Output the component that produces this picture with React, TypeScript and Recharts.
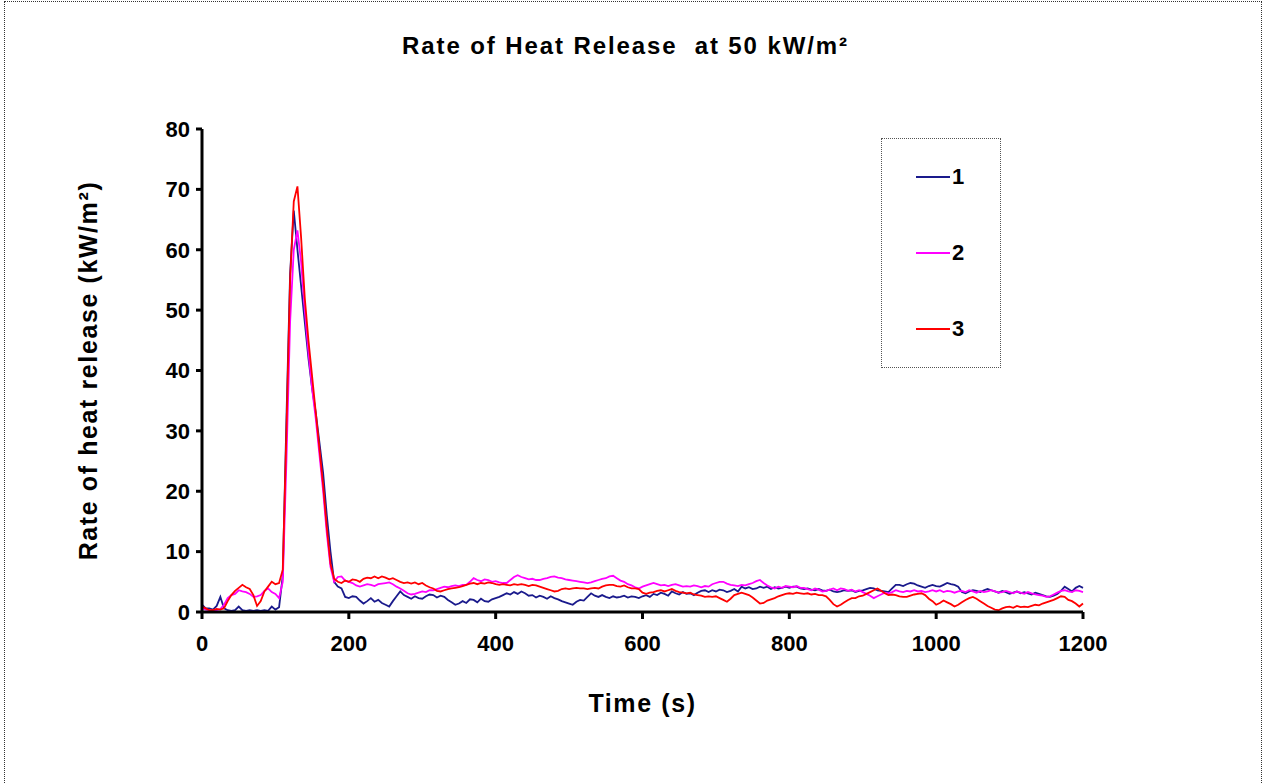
import React from "react";
import { LineChart, Line, XAxis, YAxis, Legend } from "recharts";

const timeSeconds = [
  0, 5, 10, 15, 20, 25, 30, 35, 40, 45, 50, 55, 60, 65, 70, 75, 80, 85, 90, 95,
  100, 105, 110, 115, 120, 125, 130, 135, 140, 145, 150, 155, 160, 165, 170, 175, 180, 185, 190, 195,
  200, 205, 210, 215, 220, 225, 230, 235, 240, 245, 250, 255, 260, 265, 270, 275, 280, 285, 290, 295,
  300, 305, 310, 315, 320, 325, 330, 335, 340, 345, 350, 355, 360, 365, 370, 375, 380, 385, 390, 395,
  400, 405, 410, 415, 420, 425, 430, 435, 440, 445, 450, 455, 460, 465, 470, 475, 480, 485, 490, 495,
  500, 505, 510, 515, 520, 525, 530, 535, 540, 545, 550, 555, 560, 565, 570, 575, 580, 585, 590, 595,
  600, 605, 610, 615, 620, 625, 630, 635, 640, 645, 650, 655, 660, 665, 670, 675, 680, 685, 690, 695,
  700, 705, 710, 715, 720, 725, 730, 735, 740, 745, 750, 755, 760, 765, 770, 775, 780, 785, 790, 795,
  800, 805, 810, 815, 820, 825, 830, 835, 840, 845, 850, 855, 860, 865, 870, 875, 880, 885, 890, 895,
  900, 905, 910, 915, 920, 925, 930, 935, 940, 945, 950, 955, 960, 965, 970, 975, 980, 985, 990, 995,
  1000, 1005, 1010, 1015, 1020, 1025, 1030, 1035, 1040, 1045, 1050, 1055, 1060, 1065, 1070, 1075, 1080, 1085, 1090, 1095,
  1100, 1105, 1110, 1115, 1120, 1125, 1130, 1135, 1140, 1145, 1150, 1155, 1160, 1165, 1170, 1175, 1180, 1185, 1190, 1195,
  1200,
];

const series1 = [
  1.2, 0.6, 0.6, 0.4, 1.0, 2.5, 0.6, 0.3, 0.2, 0.3, 0.9, 0.3, 0.2, 0.3, 0.2, 0.3, 0.2, 0.3, 0.2, 0.9,
  0.4, 0.8, 6, 32, 56, 66.5, 60, 54, 48, 42, 37, 33, 28, 23, 16, 10, 5, 4.2, 3.9, 2.5,
  2.3, 2.6, 2.5, 1.9, 1.4, 1.8, 2.3, 1.7, 2.0, 1.5, 1.2, 0.9, 1.8, 2.6, 3.4, 2.8, 2.5, 2.2, 2.6, 2.3,
  2.2, 2.6, 2.9, 2.8, 2.4, 2.7, 2.5, 2.0, 1.6, 1.2, 1.4, 1.8, 1.5, 2.1, 2.0, 1.6, 2.2, 1.8, 1.7, 2.1,
  2.3, 2.5, 2.8, 3.1, 2.9, 3.3, 3.0, 3.4, 3.1, 2.7, 2.8, 2.4, 2.7, 2.5, 2.2, 2.6, 2.3, 2.1, 1.8, 1.6,
  1.4, 1.2, 1.7, 2.0, 1.9, 2.5, 3.1, 2.7, 2.5, 2.8, 2.5, 2.3, 2.6, 2.4, 2.5, 2.7, 2.4, 2.6, 2.5, 2.3,
  2.6, 2.8, 2.5, 3.0, 2.8, 3.2, 3.0, 2.7, 3.4, 3.1, 2.9, 3.3, 3.0, 3.1, 2.8, 3.2, 3.5, 3.6, 3.3, 3.6,
  3.4, 3.7, 3.6, 3.3, 3.5, 3.8, 3.4, 4.2, 3.9, 4.1, 3.8, 3.9, 4.2, 4.0, 4.2, 3.8, 4.1, 3.9, 4.0, 4.2,
  4.0, 4.2, 4.2, 3.9, 3.8, 3.9, 3.7, 3.6, 3.8, 3.6, 3.5, 3.7, 3.4, 3.3, 3.4, 3.6, 3.5, 3.6, 3.3, 3.5,
  3.6, 3.8, 4.0, 3.9, 3.6, 3.5, 3.4, 3.3, 3.9, 4.5, 4.5, 4.3, 4.6, 4.8, 4.7, 4.4, 4.2, 4.0, 4.3, 4.5,
  4.3, 4.2, 4.5, 4.8, 4.6, 4.5, 4.2, 3.3, 3.1, 3.4, 3.6, 3.5, 3.3, 3.6, 3.8, 3.6, 3.4, 3.2, 3.5, 3.3,
  3.0, 3.2, 3.4, 3.1, 3.3, 3.1, 2.9, 3.2, 3.0, 2.8, 2.6, 2.5, 2.7, 3.0, 3.5, 4.2, 3.8, 3.4, 4.0, 4.3,
  4.0,
];

const series2 = [
  0.6, 0.4, 0.3, 0.2, 0.3, 0.5, 1.2, 2.3, 2.8, 3.0, 3.6, 3.4, 3.3, 3.0, 2.5, 2.6, 2.8, 3.5, 3.9, 3.3,
  3.0, 2.3, 5, 25, 48, 60, 63.2, 58, 50, 43, 37, 32, 26, 20, 13, 7.5, 5.0, 5.8, 5.9, 5.2,
  5.0, 4.8, 4.4, 4.2, 4.4, 4.6, 4.5, 4.3, 4.6, 4.7, 4.8, 4.9, 4.6, 4.2, 3.9, 3.5, 3.1, 2.9, 3.0, 3.2,
  3.4, 3.3, 3.6, 3.6, 3.8, 4.0, 4.2, 4.1, 4.3, 4.4, 4.3, 4.5, 4.5, 5.0, 5.6, 5.3, 5.1, 5.4, 5.3, 5.0,
  5.1, 4.9, 4.8, 4.8, 5.3, 5.8, 6.1, 5.8, 5.6, 5.4, 5.5, 5.3, 5.3, 5.5, 5.6, 5.8, 5.9, 5.7, 5.6, 5.4,
  5.3, 5.2, 5.1, 5.0, 4.9, 4.8, 4.9, 5.1, 5.3, 5.5, 5.6, 5.9, 6.0, 5.6, 5.2, 5.0, 4.6, 4.4, 4.1, 3.9,
  4.2, 4.4, 4.6, 4.8, 4.6, 4.4, 4.5, 4.3, 4.5, 4.6, 4.4, 4.2, 4.3, 4.2, 4.4, 4.3, 4.1, 4.3, 4.2, 4.6,
  4.8, 5.0, 5.0, 4.7, 4.5, 4.4, 4.3, 4.5, 4.4, 4.6, 4.8, 5.1, 5.3, 4.8, 4.4, 4.1, 3.9, 4.2, 4.0, 4.3,
  4.2, 4.1, 4.3, 4.0, 4.0, 3.8, 3.6, 3.9, 3.7, 3.4, 3.5, 3.7, 3.9, 3.6, 3.9, 3.8, 3.5, 3.7, 3.4, 3.6,
  3.3, 3.0, 2.7, 2.3, 2.6, 2.9, 3.2, 3.1, 3.3, 3.6, 3.4, 3.3, 3.5, 3.4, 3.6, 3.4, 3.5, 3.3, 3.4, 3.6,
  3.4, 3.6, 3.3, 3.5, 3.4, 3.2, 3.4, 3.5, 3.3, 3.6, 3.4, 3.2, 3.5, 3.3, 3.4, 3.6, 3.4, 3.2, 3.3, 3.5,
  3.3, 3.1, 3.4, 3.2, 3.0, 3.3, 3.1, 2.9, 2.8, 2.7, 2.5, 2.6, 2.9, 3.2, 3.5, 3.6, 3.4, 3.3, 3.6, 3.5,
  3.3,
];

const series3 = [
  0.9, 0.6, 0.3, 0.3, 0.5, 0.4, 0.6, 1.8, 2.8, 3.5, 4.0, 4.5, 4.1, 3.8, 2.8, 1.0, 1.8, 3.4, 4.2, 5.0,
  4.6, 4.8, 7, 30, 55, 68, 70.5, 62, 52, 45, 39, 33, 27, 21, 14, 8, 5.5, 5.0, 4.8, 5.2,
  5.0, 5.4, 5.3, 5.0, 5.5, 5.7, 5.6, 5.9, 5.6, 5.9, 5.7, 5.4, 5.6, 5.3, 5.0, 4.8, 4.9, 4.7, 4.9, 4.6,
  4.8, 4.4, 4.1, 3.9, 3.5, 3.4, 3.6, 3.8, 3.9, 4.0, 4.1, 4.3, 4.5, 4.7, 4.8, 4.6, 4.8, 4.7, 4.9, 4.8,
  4.6, 4.5, 4.6, 4.5, 4.4, 4.6, 4.5, 4.6, 4.5, 4.3, 4.5, 4.4, 4.2, 4.0, 3.8, 3.6, 3.4, 3.5, 3.8, 3.9,
  3.8, 3.9, 4.0, 3.9, 3.9, 3.8, 3.9, 4.0, 3.9, 4.2, 4.4, 4.5, 4.5, 4.3, 4.2, 4.4, 4.1, 3.9, 3.9, 3.8,
  3.2, 3.0, 3.2, 3.3, 3.5, 3.6, 3.4, 3.6, 3.8, 3.5, 3.3, 3.2, 3.1, 3.2, 2.9, 2.8, 2.7, 2.5, 2.6, 2.5,
  2.6, 2.3, 2.0, 1.7, 2.2, 2.8, 3.0, 3.2, 3.0, 2.8, 2.4, 1.9, 1.4, 1.5, 1.9, 2.1, 2.3, 2.6, 2.8, 3.0,
  3.1, 3.0, 3.2, 3.1, 3.0, 3.1, 2.9, 3.0, 2.8, 2.8, 2.6, 2.0, 1.3, 0.9, 1.2, 1.6, 2.0, 2.3, 2.3, 2.6,
  2.7, 3.0, 3.3, 3.6, 3.9, 3.5, 3.1, 2.8, 2.9, 2.8, 2.6, 2.5, 2.5, 2.7, 2.9, 3.0, 3.1, 2.8, 2.2, 1.8,
  1.2, 1.5, 1.9, 1.6, 1.3, 0.9, 1.2, 1.6, 2.0, 2.3, 2.5, 2.2, 1.8, 1.4, 1.0, 0.7, 0.4, 0.3, 0.6, 0.8,
  0.9, 0.7, 1.0, 0.8, 0.9, 0.8, 1.0, 1.2, 1.1, 1.4, 1.6, 1.8, 2.0, 2.3, 2.6, 2.5, 2.0, 1.8, 1.4, 0.9,
  1.4,
];

const seriesNames = ["1", "2", "3"];
const seriesColors = ["#1a1a8c", "#ff00ff", "#ff0000"];
const xTicks = [0, 200, 400, 600, 800, 1000, 1200];
const yTicks = [0, 10, 20, 30, 40, 50, 60, 70, 80];

const chartTitle = "Rate of Heat Release  at 50 kW/m²";
const xLabel = "Time  (s)";
const yLabel = "Rate of heat release  (kW/m²)";

const data = timeSeconds.map((t, i) => ({
  t,
  s1: series1[i],
  s2: series2[i],
  s3: series3[i],
}));

const FONT = "'Liberation Sans', Arial, sans-serif";

const LegendBox = (props: any) => {
  const payload = props.payload || [];
  return (
    <div
      style={{
        width: 120,
        height: 230,
        border: "1px dotted #555",
        position: "relative",
        boxSizing: "border-box",
        fontFamily: FONT,
      }}
    >
      {payload.map((p: any, i: number) => (
        <div
          key={i}
          style={{
            position: "absolute",
            left: 34,
            top: 26 + i * 76,
            display: "flex",
            alignItems: "center",
            height: 24,
          }}
        >
          <div style={{ width: 34, height: 0, borderTop: `2px solid ${p.color}` }} />
          <span style={{ fontWeight: "bold", fontSize: 22, color: "#000", marginLeft: 2 }}>
            {p.value}
          </span>
        </div>
      ))}
    </div>
  );
};

export default function App() {
  return (
    <div style={{ position: "absolute", left: 0, top: 0, width: 1263, height: 783, overflow: "hidden", background: "#fff" }}>
      <div
        style={{
          position: "absolute",
          left: 4,
          top: 1,
          width: 1258,
          height: 820,
          border: "1px dotted #333",
          boxSizing: "border-box",
        }}
      />
      <div
        style={{
          position: "absolute",
          left: 0,
          top: 32,
          width: 1263,
          textAlign: "center",
          fontFamily: FONT,
          fontWeight: "bold",
          fontSize: 24,
          letterSpacing: 1.9,
          whiteSpace: "pre",
        }}
      >
        <span style={{ position: "relative", left: -6 }}>{chartTitle}</span>
      </div>
      <div style={{ position: "absolute", left: 0, top: 0 }}>
        <LineChart
          width={1263}
          height={783}
          data={data}
          margin={{ top: 129, right: 180, bottom: 141, left: 142 }}
        >
          <XAxis
            dataKey="t"
            type="number"
            domain={[0, 1200]}
            ticks={xTicks}
            interval={0}
            stroke="#000"
            strokeWidth={3}
            tickSize={7}
            height={30}
            tick={{ fill: "#000", fontSize: 22, fontWeight: "bold", fontFamily: FONT }}
            tickMargin={16}
            label={{
              value: xLabel,
              position: "insideBottom",
              offset: -70,
              style: { fill: "#000", fontSize: 25, fontWeight: "bold", fontFamily: FONT, whiteSpace: "pre", letterSpacing: 1.6 },
            }}
          />
          <YAxis
            type="number"
            domain={[0, 80]}
            ticks={yTicks}
            interval={0}
            stroke="#000"
            strokeWidth={3}
            tickSize={6}
            width={60}
            tick={{ fill: "#000", fontSize: 22, fontWeight: "bold", fontFamily: FONT }}
            tickMargin={6}
            label={{
              value: yLabel,
              angle: -90,
              position: "insideLeft",
              offset: -54,
              style: { fill: "#000", fontSize: 25, fontWeight: "bold", fontFamily: FONT, textAnchor: "middle", letterSpacing: 1.6, whiteSpace: "pre" },
            }}
          />
          <Legend
            layout="horizontal"
            verticalAlign="middle"
            align="center"
            content={<LegendBox />}
            wrapperStyle={{ left: 881, top: 138, width: 120, height: 230 }}
          />
          {["s1", "s2", "s3"].map((k, i) => (
            <Line
              key={k}
              type="linear"
              dataKey={k}
              name={seriesNames[i]}
              stroke={seriesColors[i]}
              strokeWidth={1.8}
              dot={false}
              isAnimationActive={false}
            />
          ))}
        </LineChart>
      </div>
    </div>
  );
}
